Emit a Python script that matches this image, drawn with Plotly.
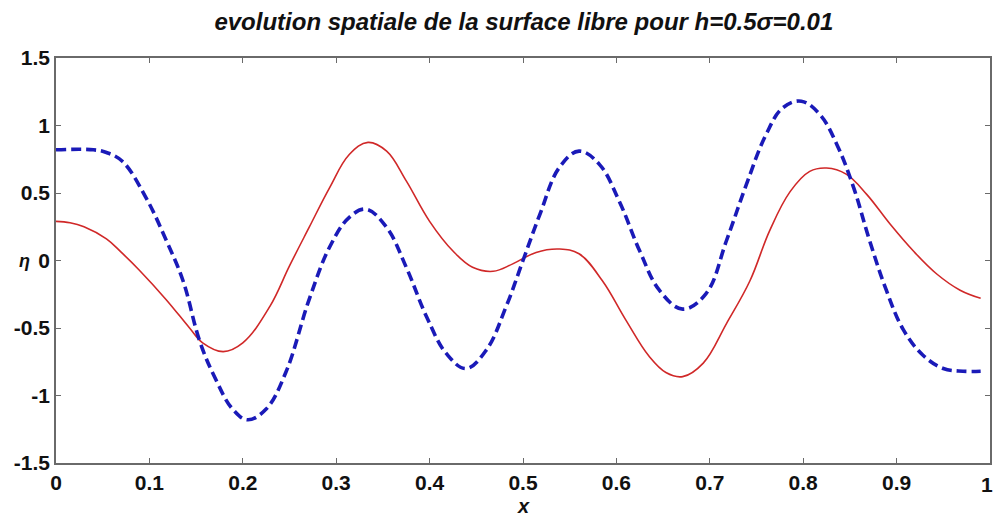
import plotly.graph_objects as go

# Red (solid) curve samples
red_x = [0.000, 0.015, 0.030, 0.054, 0.070, 0.089, 0.118, 0.143, 0.157, 0.179, 0.200, 0.229,
         0.250, 0.271, 0.293, 0.314, 0.334, 0.354, 0.375, 0.400, 0.425, 0.446,
         0.468, 0.489, 0.514, 0.539, 0.560, 0.585, 0.610, 0.635, 0.653, 0.671,
         0.693, 0.718, 0.743, 0.764, 0.786, 0.807, 0.825, 0.846, 0.868, 0.893,
         0.918, 0.943, 0.968, 0.990]
red_y = [0.29, 0.28, 0.25, 0.16, 0.06, -0.07, -0.29, -0.50, -0.61, -0.675, -0.61, -0.34,
         -0.04, 0.245, 0.54, 0.785, 0.875, 0.81, 0.59, 0.29, 0.07, -0.05,
         -0.08, -0.025, 0.06, 0.085, 0.05, -0.15, -0.44, -0.71, -0.83, -0.86,
         -0.76, -0.465, -0.15, 0.22, 0.51, 0.66, 0.685, 0.64, 0.49, 0.27,
         0.07, -0.10, -0.22, -0.28]

# Blue (dashed) curve samples
blue_x = [0.000, 0.040, 0.054, 0.071, 0.096, 0.118, 0.136, 0.154, 0.171, 0.189,
          0.205, 0.225, 0.246, 0.271, 0.293, 0.314, 0.332, 0.354, 0.375, 0.397,
          0.418, 0.439, 0.461, 0.482, 0.500, 0.518, 0.539, 0.560, 0.582, 0.603,
          0.625, 0.646, 0.671, 0.696, 0.718, 0.739, 0.760, 0.778, 0.798, 0.818,
          0.836, 0.854, 0.871, 0.889, 0.907, 0.928, 0.950, 0.971, 0.990]
blue_y = [0.82, 0.82, 0.80, 0.735, 0.47, 0.15, -0.15, -0.60, -0.88, -1.10,
          -1.18, -1.10, -0.83, -0.29, 0.10, 0.32, 0.38, 0.245, -0.05, -0.42,
          -0.69, -0.80, -0.66, -0.34, 0.00, 0.34, 0.69, 0.81, 0.71, 0.44,
          0.07, -0.22, -0.36, -0.245, 0.15, 0.56, 0.93, 1.13, 1.18, 1.08,
          0.86, 0.54, 0.15, -0.22, -0.51, -0.70, -0.80, -0.82, -0.82]

x_ticks = [0, 0.1, 0.2, 0.3, 0.4, 0.5, 0.6, 0.7, 0.8, 0.9, 1]
x_tick_labels = ["0", "0.1", "0.2", "0.3", "0.4", "0.5", "0.6", "0.7", "0.8", "0.9", "1"]
y_ticks = [-1.5, -1, -0.5, 0, 0.5, 1, 1.5]
y_tick_labels = ["-1.5", "-1", "-0.5", "0", "0.5", "1", "1.5"]

title_text = "evolution spatiale de la surface libre pour h=0.5σ=0.01"

FONT = "Liberation Sans Narrow, Liberation Sans, Arial, sans-serif"
TICKFONT = dict(family=FONT, size=21, color="#111", weight="bold")

fig = go.Figure()
fig.add_trace(go.Scatter(
    x=red_x, y=red_y, mode="lines", line_shape="spline",
    line=dict(color="#d02828", width=1.6, smoothing=1.1), showlegend=False))
fig.add_trace(go.Scatter(
    x=blue_x, y=blue_y, mode="lines", line_shape="spline",
    line=dict(color="#1a1ab8", width=3.6, dash="10px,5px", smoothing=1.1), showlegend=False))

axis_common = dict(
    showline=True, linecolor="#6a6a6a", linewidth=1.5, mirror="allticks",
    ticks="inside", ticklen=5, tickcolor="#6a6a6a", tickwidth=1,
    showgrid=False, zeroline=False,
    tickfont=TICKFONT,
)

fig.update_xaxes(range=[0, 1], tickvals=x_ticks[:-1], ticktext=x_tick_labels[:-1], **axis_common)
fig.update_yaxes(range=[-1.5, 1.5], tickvals=y_ticks, ticktext=y_tick_labels, **axis_common)

fig.update_layout(
    width=994, height=524,
    margin=dict(l=56, r=2, t=58, b=61),
    paper_bgcolor="white", plot_bgcolor="white",
    title=dict(text=title_text, x=0.527, xanchor="center", y=0.975, yanchor="top",
               font=dict(family=FONT, size=24, color="#111", weight="bold", style="italic")),
    annotations=[
        dict(text=x_tick_labels[-1], xref="x", yref="paper", x=x_ticks[-1], y=-0.019,
             xanchor="right", xshift=5, yanchor="top", showarrow=False, font=TICKFONT),
        dict(text="η", xref="paper", yref="paper", x=-0.026, y=0.5, xanchor="right",
             yanchor="middle", showarrow=False,
             font=dict(family=FONT, size=18, color="#111", weight="bold", style="italic")),
        dict(text="x", xref="paper", yref="paper", x=0.5, y=-0.075, xanchor="center",
             yanchor="top", showarrow=False,
             font=dict(family=FONT, size=20, color="#111", weight="bold", style="italic")),
    ],
)

fig.write_html("out.html")
